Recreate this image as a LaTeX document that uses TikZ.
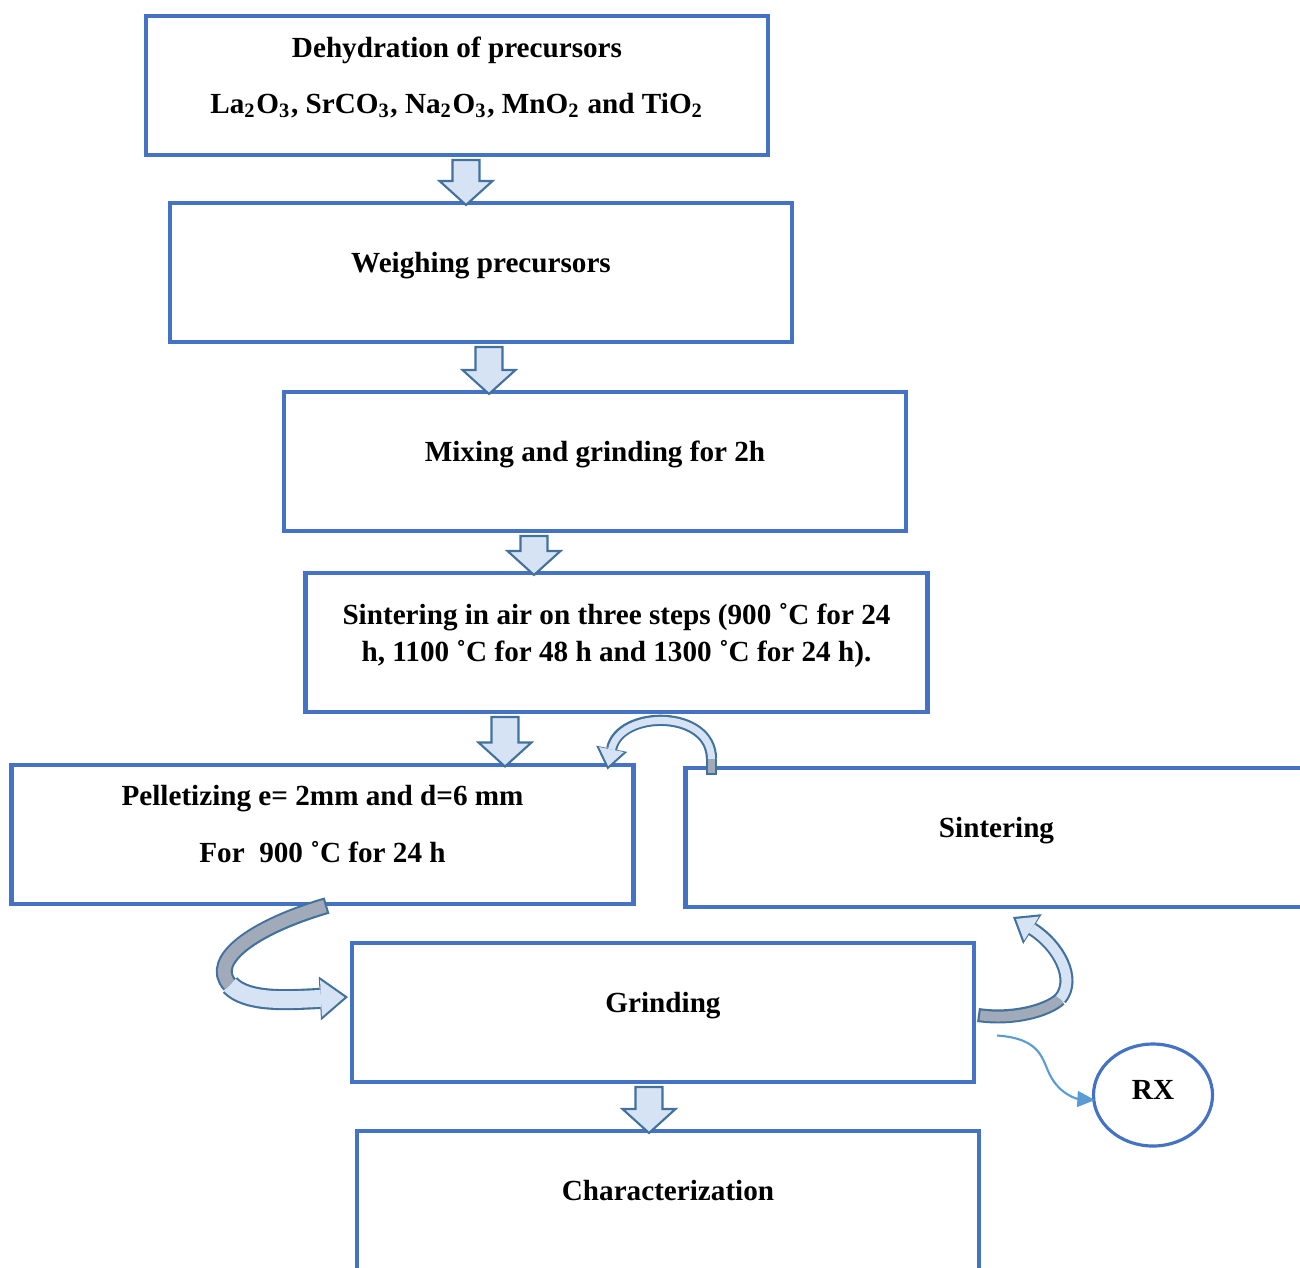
\documentclass[tikz,border=0pt]{standalone}
\usepackage{fontspec}
\setmainfont{Liberation Serif}
\usetikzlibrary{
	arrows.meta,
	calc,
	shapes.geometric
}

\definecolor{boxblue}{RGB}{68,114,196}
\definecolor{arrowline}{RGB}{65,113,156}
\definecolor{arrowfill}{RGB}{214,227,245}
\definecolor{ribbongray}{RGB}{160,170,184}
\definecolor{rxblue}{RGB}{91,155,213}

% block arrow between two stages, #3 = x position in cm
\newcommand{\flowdown}[3]{%
	\draw[flow] let \p1=(#1.south), \p2=(#2.north) in
		({#3cm-0.135cm},{\y1-0.03cm}) -- ({#3cm+0.135cm},{\y1-0.03cm})
		-- ({#3cm+0.135cm},{\y2+0.20cm}) -- ({#3cm+0.265cm},{\y2+0.20cm})
		-- ({#3cm},{\y2-0.04cm}) -- ({#3cm-0.265cm},{\y2+0.20cm})
		-- ({#3cm-0.135cm},{\y2+0.20cm}) -- cycle;}

\begin{document}
\begin{tikzpicture}[
	stage/.style={
		rectangle,
		draw=boxblue,
		line width=1.15pt,
		minimum width=6.22cm,
		minimum height=1.39cm,
		inner sep=2pt,
		align=center,
		font=\bfseries\fontsize{8.3}{10.5}\selectfont,
		execute at end node={\rule[-5.8pt]{0pt}{0pt}}
	},
	probe/.style={
		ellipse,
		draw=boxblue,
		line width=0.9pt,
		minimum width=1.19cm,
		minimum height=1.02cm,
		inner sep=0pt,
		font=\bfseries\fontsize{8.3}{10.5}\selectfont,
		execute at end node={\rule[-3pt]{0pt}{0pt}}
	},
	flow/.style={fill=arrowfill, draw=arrowline, line width=0.6pt, line join=miter},
	rxedge/.style={rxblue, line width=0.6pt, -{Triangle[length=5pt,width=4.5pt]}}
]

\useasboundingbox (0,0) rectangle (13,-12.67);

\node[stage] (dehyd) at (4.57,-0.855) {Dehydration of precursors\\[5.4pt]
	La\textsubscript{2}O\textsubscript{3}, SrCO\textsubscript{3}, Na\textsubscript{2}O\textsubscript{3}, MnO\textsubscript{2} and TiO\textsubscript{2}};
\node[stage] (weigh) at (4.81,-2.725) {Weighing precursors};
\node[stage] (mix) at (5.95,-4.615) {Mixing and grinding for 2h};
\node[stage] (sinter) at (6.165,-6.425) {Sintering in air on three steps (900 ˚C for 24\\
	h, 1100 ˚C for 48 h and 1300 ˚C for 24 h).};
\node[stage] (pellet) at (3.225,-8.34) {Pelletizing e= 2mm and d=6 mm\\[5.8pt] For\ \ 900 ˚C for 24 h};
\node[stage] (sint2) at (9.965,-8.375) {Sintering};
\node[stage] (grind) at (6.63,-10.125) {Grinding};
\node[stage] (charac) at (6.68,-12.005) {Characterization};
\node[probe] (rx) at (11.53,-10.95) {RX};

% straight block arrows
\flowdown{dehyd}{weigh}{4.66}
\flowdown{weigh}{mix}{4.89}
\flowdown{mix}{sinter}{5.34}
\flowdown{sinter}{pellet}{5.05}
\flowdown{grind}{charac}{6.49}

% sintering -> pelletizing
\coordinate (c1s) at ($(sint2.north west)+(0.28,-0.09)$);
\coordinate (c1m) at ($(c1s)+(0,0.16)$);
\coordinate (c1e) at ($(pellet.north east)+(-0.28,-0.07)$);
\draw[arrowline, line width=3.2pt] (c1s) -- (c1m);
\draw[ribbongray, line width=2pt, shorten <=0.6pt] (c1s) -- (c1m);
\draw[arrowline, line width=3.2pt, -{Triangle[length=6pt,width=9pt,line width=0pt]}]
	(c1m) .. controls +(0,0.5) and +(0.12,0.6) .. (c1e);
\draw[arrowfill, line width=2pt, shorten >=1pt, -{Triangle[length=4.8pt,width=7.2pt,line width=0pt]}]
	(c1m) .. controls +(0,0.5) and +(0.12,0.6) .. (c1e);

% pelletizing -> grinding
\coordinate (c2s) at ($(pellet.south)+(0.045,0)$);
\coordinate (c2m) at (2.3,-9.85);
\coordinate (c2e) at ($(grind.west)+(-0.02,0.155)$);
\draw[arrowline, line width=4.8pt] (c2s) .. controls +(-0.72,-0.21) and +(-0.23,0.25) .. (c2m);
\draw[ribbongray, line width=3.6pt, shorten <=0.6pt] (c2s) .. controls +(-0.72,-0.21) and +(-0.23,0.25) .. (c2m);
\draw[arrowline, line width=6pt, -{Triangle[length=8pt,width=12.5pt,line width=0pt]}]
	(c2m) .. controls +(0.17,-0.18) and +(-0.6,-0.03) .. (c2e);
\draw[arrowfill, line width=4.8pt, shorten >=1pt, -{Triangle[length=6.7pt,width=10.5pt,line width=0pt]}]
	(c2m) .. controls +(0.17,-0.18) and +(-0.6,-0.03) .. (c2e);

% grinding -> sintering
\coordinate (c3s) at ($(grind.east)+(0.02,-0.025)$);
\coordinate (c3m) at (10.6,-9.99);
\coordinate (c3e) at ($(sint2.south)+(0.165,-0.08)$);
\draw[arrowline, line width=4pt] (c3s) .. controls +(0.34,-0.05) and +(-0.13,-0.12) .. (c3m);
\draw[ribbongray, line width=2.8pt, shorten <=0.6pt] (c3s) .. controls +(0.34,-0.05) and +(-0.13,-0.12) .. (c3m);
\draw[arrowline, line width=4pt, -{Triangle[length=6.5pt,width=10pt,line width=0pt]}]
	(c3m) .. controls +(0.17,0.2) and +(0.45,-0.28) .. (c3e);
\draw[arrowfill, line width=2.8pt, shorten >=1pt, -{Triangle[length=5.2pt,width=8pt,line width=0pt]}]
	(c3m) .. controls +(0.17,0.2) and +(0.45,-0.28) .. (c3e);

% grinding -> RX
\draw[rxedge] ($(grind.east)+(0.21,-0.23)$) .. controls +(0.45,-0.03) and +(-0.08,0.15) .. (10.5,-10.75)
	.. controls +(0.1,-0.2) and +(-0.17,0.01) .. ($(rx.west)+(0.03,-0.05)$);
\end{tikzpicture}
\end{document}
